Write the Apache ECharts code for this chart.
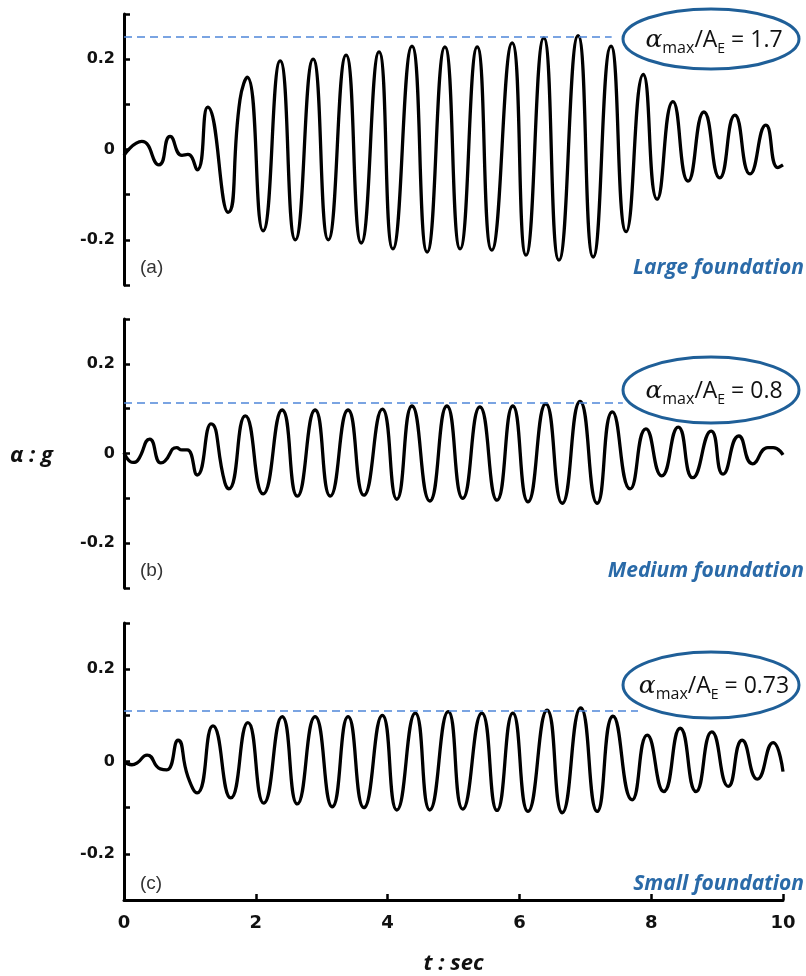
<!DOCTYPE html>
<html>
<head>
<meta charset="utf-8">
<script src="https://cdn.jsdelivr.net/npm/echarts@6/dist/echarts.min.js"></script>
<style>
  html, body { margin: 0; padding: 0; background: #fff; }
  #chart { width: 806px; height: 976px; }
</style>
</head>
<body>
<div id="chart"></div>
<script>
// t (sec), acceleration (g), peaks / troughs / bends
var largeT = [0.00, 0.27, 0.53, 0.70, 0.88, 0.97, 1.11, 1.27, 1.58, 1.76, 1.87, 2.11, 2.37, 2.60, 2.87, 3.10, 3.37, 3.60, 3.87, 4.08, 4.37, 4.60, 4.87, 5.10, 5.36, 5.58, 5.89, 6.10, 6.37, 6.60, 6.89, 7.12, 7.39, 7.62, 7.88, 8.09, 8.33, 8.56, 8.80, 9.04, 9.27, 9.50, 9.74, 9.92, 10.00];
var largeA = [-0.013, 0.018, -0.034, 0.029, -0.013, -0.011, -0.045, 0.094, -0.139, 0.11, 0.16, -0.18, 0.196, -0.20, 0.20, -0.20, 0.209, -0.207, 0.216, -0.22, 0.229, -0.227, 0.227, -0.22, 0.227, -0.223, 0.236, -0.234, 0.247, -0.245, 0.252, -0.238, 0.229, -0.182, 0.166, -0.11, 0.106, -0.07, 0.083, -0.063, 0.076, -0.054, 0.054, -0.04, -0.034];

var mediumT = [0.00, 0.14, 0.21, 0.39, 0.56, 0.62, 0.80, 0.88, 0.96, 1.11, 1.32, 1.53, 1.59, 1.84, 2.11, 2.40, 2.63, 2.90, 3.13, 3.40, 3.64, 3.92, 4.14, 4.37, 4.64, 4.90, 5.14, 5.40, 5.66, 5.90, 6.13, 6.40, 6.65, 6.92, 7.18, 7.41, 7.68, 7.92, 8.16, 8.41, 8.63, 8.91, 9.09, 9.33, 9.54, 9.77, 9.85, 10.00];
var mediumA = [0.002, -0.02, -0.015, 0.032, -0.021, -0.017, 0.013, 0.008, 0.008, -0.048, 0.066, -0.065, -0.079, 0.084, -0.09, 0.097, -0.095, 0.097, -0.095, 0.097, -0.093, 0.099, -0.102, 0.106, -0.106, 0.106, -0.10, 0.104, -0.104, 0.106, -0.108, 0.111, -0.111, 0.116, -0.111, 0.093, -0.079, 0.055, -0.05, 0.059, -0.054, 0.05, -0.046, 0.039, -0.023, 0.013, 0.013, -0.003];

var smallT = [0.00, 0.12, 0.20, 0.35, 0.55, 0.65, 0.82, 0.97, 1.11, 1.35, 1.62, 1.88, 2.12, 2.40, 2.63, 2.90, 3.16, 3.40, 3.64, 3.92, 4.14, 4.42, 4.64, 4.92, 5.14, 5.43, 5.66, 5.90, 6.13, 6.42, 6.65, 6.93, 7.18, 7.42, 7.71, 7.94, 8.19, 8.44, 8.68, 8.92, 9.17, 9.38, 9.61, 9.85, 10.00];
var smallA = [0.0, -0.007, -0.003, 0.014, -0.016, -0.018, 0.046, -0.033, -0.068, 0.077, -0.079, 0.084, -0.09, 0.097, -0.092, 0.097, -0.098, 0.097, -0.10, 0.10, -0.105, 0.105, -0.105, 0.108, -0.103, 0.105, -0.106, 0.105, -0.108, 0.111, -0.111, 0.116, -0.108, 0.098, -0.083, 0.057, -0.065, 0.072, -0.065, 0.064, -0.054, 0.046, -0.038, 0.041, -0.022];

var panelNames = ['(a)', '(b)', '(c)'];
var foundationNames = ['Large foundation', 'Medium foundation', 'Small foundation'];
var ratioText = ['1.7', '0.8', '0.73'];
var peakLevel = [0.25, 0.113, 0.111];
var peakLineEnd = [7.4, 7.57, 7.8];
var xTicks = [0, 2, 4, 6, 8, 10];

var grids = [
  { left: 124, right: 23, top: 14, height: 271 },
  { left: 124, right: 23, top: 319, height: 269 },
  { left: 124, right: 23, top: 623, height: 278 }
];

function pairs(t, a) {
  return t.map(function (v, i) { return [v, a[i]]; });
}

function yLabel(v) {
  var r = Math.round(v * 10) / 10;
  if (r === 0) return '0';
  if (Math.abs(r) === 0.2) return r.toFixed(1);
  return '';
}

var chart = echarts.init(document.getElementById('chart'));

var xAxes = [], yAxes = [], series = [], graphics = [];
var allData = [pairs(largeT, largeA), pairs(mediumT, mediumA), pairs(smallT, smallA)];

for (var i = 0; i < 3; i++) {
  var last = i === 2;
  xAxes.push({
    gridIndex: i, type: 'value', min: 0, max: 10, interval: 2,
    show: last,
    name: last ? 't : sec' : '',
    nameLocation: 'middle', nameGap: 53,
    nameTextStyle: { fontFamily: 'Open Sans', fontWeight: 'bold', fontStyle: 'italic', fontSize: 22, color: '#111' },
    axisLine: { onZero: false, lineStyle: { color: '#000', width: 3 } },
    axisTick: { inside: true, length: 6, lineStyle: { color: '#000', width: 2.5 } },
    axisLabel: { fontFamily: 'DejaVu Sans', fontWeight: 'bold', fontSize: 18, color: '#111', margin: 14,
      formatter: function (v) { return xTicks.indexOf(v) >= 0 ? String(v) : ''; } },
    splitLine: { show: false }
  });
  yAxes.push({
    gridIndex: i, type: 'value', min: -0.3, max: 0.3, interval: 0.1,
    axisLine: { show: true, onZero: false, lineStyle: { color: '#000', width: 3 } },
    axisTick: { show: true, inside: true, length: 6, lineStyle: { color: '#000', width: 2.5 } },
    axisLabel: { fontFamily: 'DejaVu Sans', fontWeight: 'bold', fontSize: 16, color: '#111', margin: 9, formatter: yLabel },
    splitLine: { show: false }
  });
  series.push({
    type: 'line', xAxisIndex: i, yAxisIndex: i,
    data: allData[i], smooth: 0.55, showSymbol: false,
    lineStyle: { color: '#000', width: 3.3 },
    markLine: {
      silent: true, symbol: 'none', label: { show: false },
      lineStyle: { color: '#4f86d9', type: [8, 5], width: 1.5 },
      data: [[{ coord: [0, peakLevel[i]] }, { coord: [peakLineEnd[i], peakLevel[i]] }]]
    }
  });
}

chart.setOption({
  backgroundColor: '#fff',
  animation: false,
  grid: grids,
  xAxis: xAxes,
  yAxis: yAxes,
  series: series
});

// annotations placed from the grids
var ellipseY = [39, 390, 685];
for (var j = 0; j < 3; j++) {
  var g = grids[j];
  var bottom = g.top + g.height;
  graphics.push({
    type: 'ellipse', shape: { cx: 711, cy: ellipseY[j], rx: 88, ry: j === 0 ? 30 : 33 },
    style: { fill: '#fff', stroke: '#1f5f98', lineWidth: 3 }, z: 10
  });
  graphics.push({
    type: 'text', x: 714, y: ellipseY[j] + 1, z: 11,
    style: {
      text: '{a|α}{s|max}{n|/A}{e|E}{n| = ' + ratioText[j] + '}',
      align: 'center', verticalAlign: 'middle',
      rich: {
        a: { fontFamily: 'DejaVu Serif', fontStyle: 'italic', fontSize: 25, lineHeight: 32, verticalAlign: 'middle', fill: '#111' },
        s: { fontFamily: 'Open Sans', fontSize: 16, lineHeight: 32, verticalAlign: 'bottom', fill: '#111' },
        e: { fontFamily: 'Open Sans', fontSize: 14, lineHeight: 32, verticalAlign: 'bottom', fill: '#111' },
        n: { fontFamily: 'Open Sans', fontSize: 23, lineHeight: 32, verticalAlign: 'middle', fill: '#111' }
      }
    }
  });
  graphics.push({
    type: 'text', x: 140, y: bottom - 17, z: 11,
    style: { text: panelNames[j], fontFamily: 'Liberation Sans', fontSize: 19, fill: '#333', verticalAlign: 'middle' }
  });
  graphics.push({
    type: 'text', x: 804, y: bottom - 17, z: 11,
    style: { text: foundationNames[j], fontFamily: 'Open Sans', fontWeight: 'bold', fontStyle: 'italic', fontSize: 21, fill: '#2a6aa8', align: 'right', verticalAlign: 'middle' }
  });
}
graphics.push({
  type: 'text', x: 10, y: 456, z: 11,
  style: { text: 'α : g', fontFamily: 'Open Sans', fontWeight: 'bold', fontStyle: 'italic', fontSize: 22, fill: '#111', verticalAlign: 'middle' }
});

chart.setOption({ graphic: graphics });
</script>
</body>
</html>
